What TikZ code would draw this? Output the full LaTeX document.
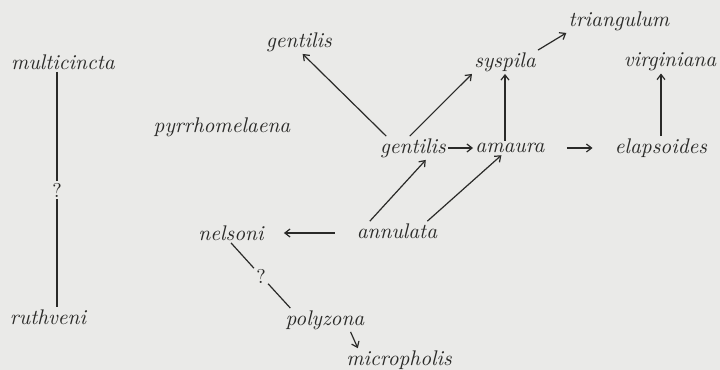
\documentclass[tikz,border=0pt]{standalone}
\usepackage{tikz}
\usetikzlibrary{arrows.meta}
\definecolor{mPaper}{HTML}{EAEAE8}
\definecolor{mInk}{HTML}{2A2A28}

\begin{document}
\begin{tikzpicture}[x=0.5pt, y=-0.5pt, font=\fontsize{10.6pt}{12pt}\selectfont,
  taxon/.style={mInk, inner sep=1pt, font=\fontsize{10.6pt}{12pt}\selectfont\itshape},
  query/.style={mInk, inner sep=1pt, font=\fontsize{10pt}{11pt}\selectfont},
  arr/.style={-{Straight Barb[length=2.6pt,width=4pt]}, mInk, semithick},
  link/.style={mInk, semithick}]
% paper and frame
\fill[mPaper] (0,0) rectangle (720,370);
\useasboundingbox (0,0) rectangle (720,370);
% taxa
\node[taxon] (mu) at (63,62) {multicincta};
\node[taxon] (ru) at (48,317) {ruthveni};
\node[taxon] (py) at (222,127) {pyrrhomelaena};
\node[taxon] (gt) at (299,42) {gentilis};
\node[taxon] (tr) at (619,21) {triangulum};
\node[taxon] (sy) at (505,62) {syspila};
\node[taxon] (vi) at (670,62) {virginiana};
\node[taxon] (gm) at (413,148) {gentilis};
\node[taxon] (am) at (510,148) {amaura};
\node[taxon] (el) at (661,148) {elapsoides};
\node[taxon] (an) at (397,231) {annulata};
\node[taxon] (ne) at (231,233) {nelsoni};
\node[taxon] (po) at (325,320) {polyzona};
\node[taxon] (mi) at (399,360) {micropholis};
% doubtful links
\node[query] (q1) at (57,190) {?};
\node[query] (q2) at (261,276) {?};
\draw[link] (q1 |- mu.south) -- (q1) -- (q1 |- ru.north);
\draw[link] (ne.south) -- (q2) -- (po.161);
% derivations
\draw[arr] (gm.156) -- (gt.-73);
\draw[arr] (gm.105) -- (sy.south west);
\draw[arr] (sy.south |- am.north) -- (sy.south);
\draw[arr] (sy.north east) -- (tr.south west);
\draw[arr] (gm.east) -- (am.west);
\draw[arr, shorten <=10pt, shorten >=10pt] (am.east) -- (el.west);
\draw[arr] (el.north) -- (el.north |- vi.south);
\draw[arr] (an.160) -- (gm.-43);
\draw[arr] (an.18) -- (am.-140);
\draw[arr, shorten <=10pt, shorten >=9pt] (an.west |- ne.east) -- (ne.east);
\draw[arr] (po.-25) -- (mi.164);
\end{tikzpicture}
\end{document}
